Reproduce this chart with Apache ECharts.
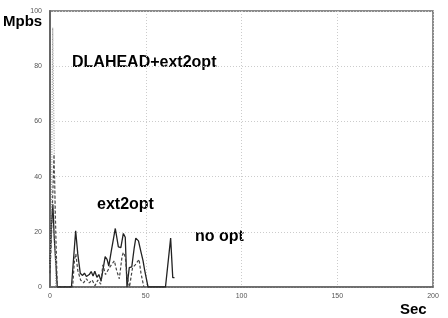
<!DOCTYPE html>
<html><head><meta charset="utf-8">
<script src="https://cdn.jsdelivr.net/npm/echarts@6/dist/echarts.min.js"></script>
<style>html,body{margin:0;padding:0;background:#fff}#c{width:448px;height:318px}</style>
</head><body><div id="c"></div>
<script>
var xTicks = [0, 50, 100, 150, 200];
var yTicks = [0, 20, 40, 60, 80, 100];
var noOpt = [[0,8],[0.7,22],[1.5,30],[2.2,18],[3.8,0],[11.2,0],[13.4,20.4],[14.5,12],[15.8,5],[17,4.2],[18,5],[19,3.8],[20.5,4.5],[21.5,5.6],[22.5,4],[23.4,5.7],[24.5,3.5],[25.5,4.5],[26.7,2.2],[28.8,11],[29.8,10],[30.7,7.6],[32,13],[34.1,21.2],[35.7,14.5],[37,14.3],[38.3,19.4],[39.3,18],[40.2,0],[41.4,7],[42.7,7.3],[44,14.3],[44.8,17.7],[46.2,16.7],[47.4,13],[48.6,9.5],[49.5,5.8],[51.2,0],[60.3,0],[63,17.7],[64.1,3.4],[65,3.4]];
var ext2opt = [[0,5],[0.7,17],[2.1,48],[3,20],[3.8,0],[11.8,0],[12.8,10],[13.5,12],[14.5,6],[16,2.5],[17.5,1.5],[19,3],[20.5,1.5],[22,2.5],[23.5,0.5],[25,2.5],[26.5,1],[27.6,8],[29,4.5],[31,7],[33.6,9.5],[34.8,6],[36.2,3],[37.6,11],[38.3,12.5],[39.3,11],[40.2,4],[41.5,0],[43.1,7],[44.5,8],[46.5,10],[47.5,5],[49,0]];
var dlahead = [[0,8],[0.8,30],[1.4,94],[2.2,50],[3,0]];
var labels = ['DLAHEAD+ext2opt', 'ext2opt', 'no opt'];

var chart = echarts.init(document.getElementById('c'), null, {renderer:'canvas'});
var tickStyle = {fontSize:7, color:'#555', fontFamily:'Liberation Sans'};
var txt = {fontFamily:'Liberation Sans', fontSize:15, fontWeight:'bold', fill:'#000'};
var txt2 = {fontFamily:'Liberation Sans', fontSize:16, fontWeight:'bold', fill:'#000'};
chart.setOption({
  animation:false,
  grid:{left:50, right:15, top:11, bottom:31, show:true, borderColor:'#666', borderWidth:1.5},
  xAxis:{type:'value', min:0, max:200, interval:50,
    axisLine:{show:true, lineStyle:{color:'#666', width:1.5}},
    axisTick:{show:false},
    axisLabel:Object.assign({margin:6, formatter:function(v){return xTicks.indexOf(v)>=0?String(v):'';}}, tickStyle),
    splitLine:{show:true, lineStyle:{color:'#ccc', type:[1,2], width:1}}},
  yAxis:{type:'value', min:0, max:100, interval:20,
    axisLine:{show:true, lineStyle:{color:'#666', width:2}},
    axisTick:{show:false},
    axisLabel:Object.assign({margin:8, formatter:function(v){return yTicks.indexOf(v)>=0?String(v):'';}}, tickStyle),
    splitLine:{show:true, lineStyle:{color:'#ccc', type:[1,2], width:1}}},
  series:[
    {type:'line', data:noOpt, symbol:'none', lineStyle:{color:'#222', width:1.3}},
    {type:'line', data:ext2opt, symbol:'none', lineStyle:{color:'#444', width:1.2, type:[3,2]}},
    {type:'line', data:dlahead, symbol:'none', lineStyle:{color:'#999', width:1.2, type:[1,1.5]}}
  ],
  graphic:[
    {type:'text', left:3, top:14, style:Object.assign({text:'Mpbs'}, txt)},
    {type:'text', left:400, top:302, style:Object.assign({text:'Sec'}, txt)},
    {type:'text', left:72, top:55, style:Object.assign({text:labels[0]}, txt2)},
    {type:'text', left:97, top:197, style:Object.assign({text:labels[1]}, txt2)},
    {type:'text', left:195, top:229, style:Object.assign({text:labels[2]}, txt2)}
  ]
});
</script></body></html>
